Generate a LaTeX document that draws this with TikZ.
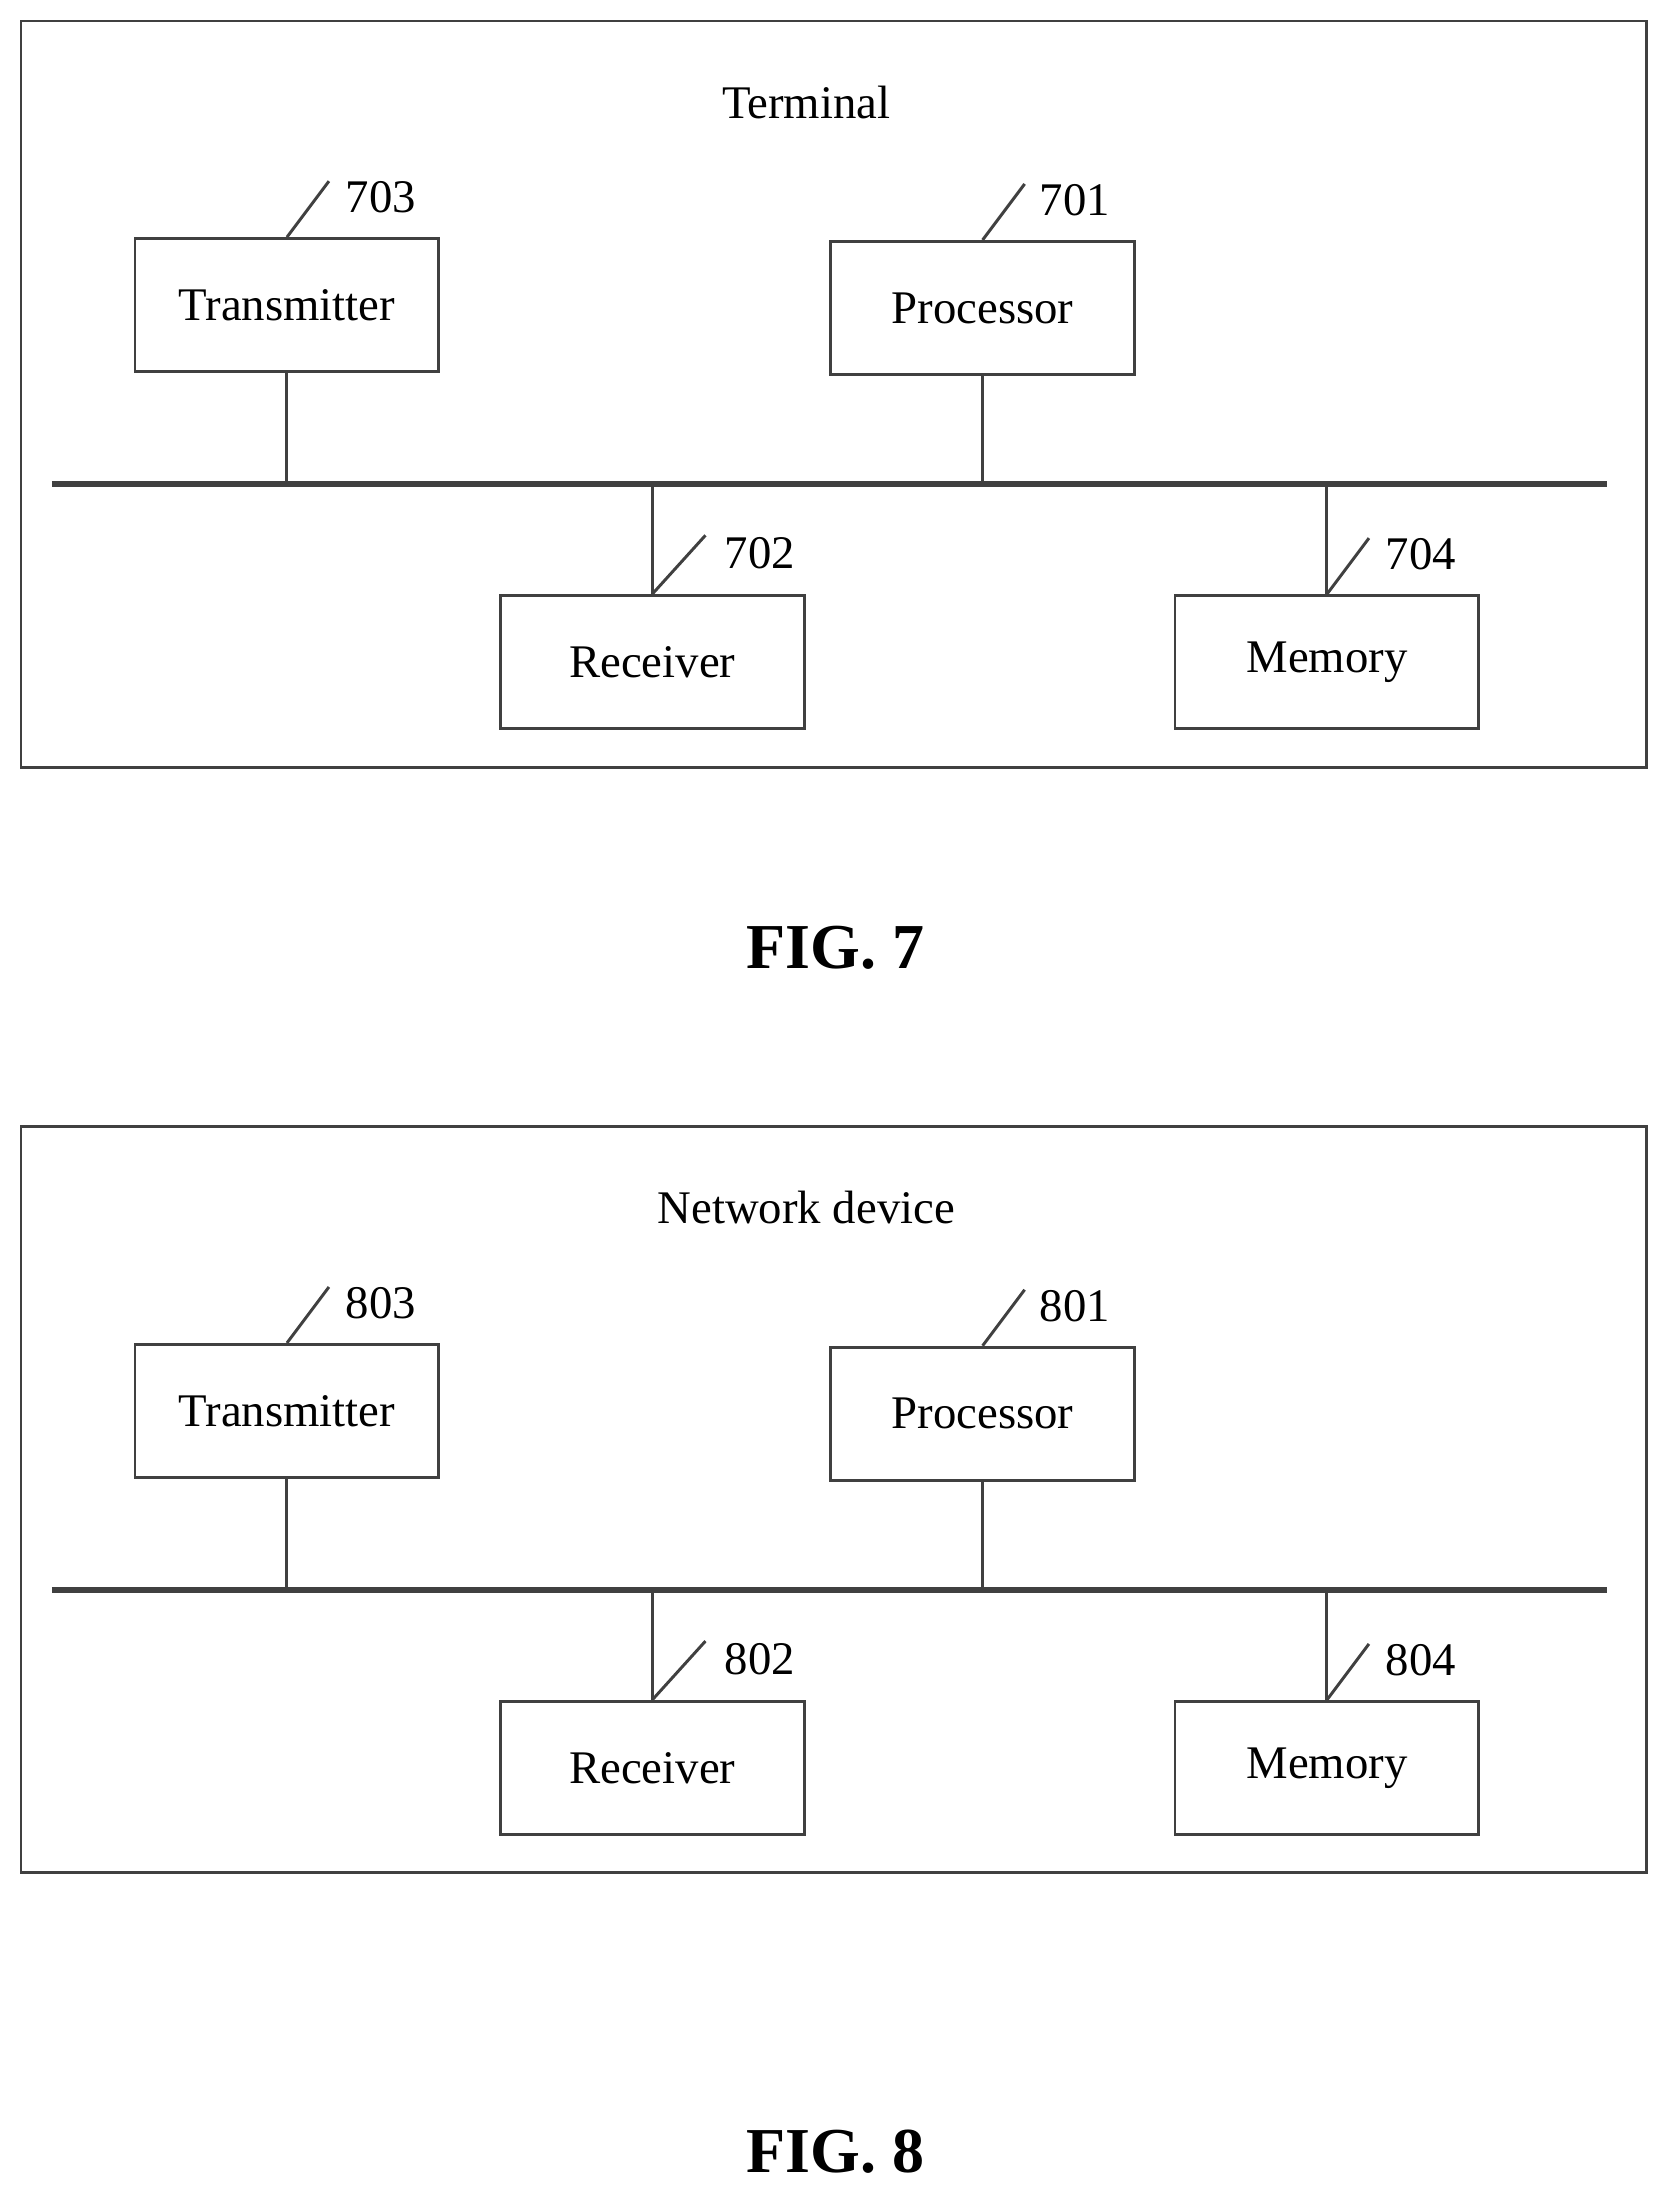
\documentclass[tikz,border=0pt]{standalone}
\usepackage{fontspec}
\setmainfont{Liberation Serif}
\usepackage{tikz}
\tikzset{
  blk/.style={draw=black!75,line width=0.6pt,minimum width=2.17cm,minimum height=0.95cm,
    font=\fontsize{9.5}{11}\selectfont},
  lbl/.style={font=\fontsize{9.5}{11}\selectfont},
  wire/.style={draw=black!75,line width=0.6pt},
  bus/.style={draw=black!75,line width=1.2pt}
}
\begin{document}
\begin{tikzpicture}[x=0.01cm,y=-0.01cm]
  \useasboundingbox (0,0) rectangle (1190,1566);
  \foreach \oy/\n/\title/\fy in {0/7/Terminal/677, 790/8/Network device/1537}
  {
    \begin{scope}[yshift=-\oy*0.01cm]
      \draw[wire] (15,15) rectangle (1176,548);
      \node[lbl] (title\n) at (576,73) {\title};
      \node[blk] (tx\n) at (205,218) {Transmitter};
      \node[blk] (proc\n) at (702,220) {Processor};
      \node[blk] (rx\n) at (466,473) {Receiver};
      \node[blk] (mem\n) at (948,473) {Memory};
      \coordinate (busL\n) at (37,346);
      \coordinate (busR\n) at (1148,346);
      \draw[bus] (busL\n) -- (busR\n);
      \draw[wire] (tx\n.south) -- (tx\n.south |- busL\n);
      \draw[wire] (proc\n.south) -- (proc\n.south |- busL\n);
      \draw[wire] (rx\n.north) -- (rx\n.north |- busL\n);
      \draw[wire] (mem\n.north) -- (mem\n.north |- busL\n);
      % reference numerals
      \node[lbl] (ntx\n) at (272,141) {\n03};
      \node[lbl] (nproc\n) at (768,143) {\n01};
      \node[lbl] (nrx\n) at (543,395) {\n02};
      \node[lbl] (nmem\n) at (1015,396) {\n04};
      \draw[wire] (tx\n.north) -- ++(30,-40);
      \draw[wire] (proc\n.north) -- ++(30,-40);
      \draw[wire] (rx\n.north) -- ++(38,-42);
      \draw[wire] (mem\n.north) -- ++(30,-40);
    \end{scope}
    \node[font=\fontsize{13}{15}\selectfont\bfseries] (fig\n) at (597,\fy) {FIG. \n};
  }
\end{tikzpicture}
\end{document}
